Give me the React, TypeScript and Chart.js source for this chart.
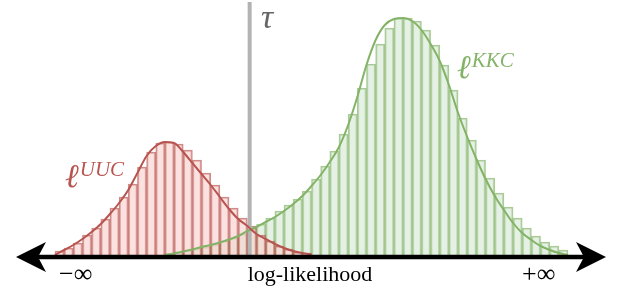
import React, { useEffect, useRef } from "react";
import { Chart, registerables } from "chart.js";
Chart.register(...registerables);

// histogram bins share one grid of unit-width bins (edges 0..56)
const redFirstBin = 0;
const redBars = [4, 7, 12, 20, 27, 36, 47, 58, 71, 88, 103, 112, 113, 111, 105, 95, 82, 70, 58, 47, 37, 29, 20, 14, 9, 6, 3, 2];
const greenFirstBin = 12;
const greenBars = [1.3, 3.3, 5, 6.7, 8, 10.7, 14, 17, 21, 27, 31, 37, 44, 50, 56, 64, 76, 89, 104, 121, 141, 167, 191, 211, 227, 237, 237, 234, 225, 210, 190, 165, 137, 115, 95, 77, 62, 48, 37, 27, 19, 13, 9, 5];
// density curves sampled at bin edges
const redCurve = [0, 5, 10, 16, 23, 31, 41, 52, 65, 82, 99, 109, 113, 112, 103, 92, 81, 70, 58, 46, 36, 29, 21, 16, 11, 7, 4, 2, 0.5];
const greenCurve = [0, 1.5, 3.5, 5.5, 8, 10, 12.5, 15.5, 19, 24, 28, 33, 38, 44, 51, 59, 69, 80, 93, 108, 130, 158, 190, 215, 230, 236, 237, 234, 225, 211, 194, 170, 142, 118, 96, 76, 59, 45, 32, 22, 15, 9, 5, 2, 0];
const tau = 21.25;
const tauTop = 253;
const axisLabels = ["\u2212\u221E", "log-likelihood", "+\u221E"];
const seriesLabels = ["UUC", "KKC"];
const tauLabel = "\u03C4";

const RED = "#b85450";
const GREEN = "#82b366";

const overlay = {
  id: "overlay",
  afterDatasetsDraw(chart: any) {
    const ctx = chart.ctx as CanvasRenderingContext2D;
    const y0 = chart.scales.y.getPixelForValue(0) + 2;
    ctx.save();
    // axis with arrows
    ctx.strokeStyle = "#000";
    ctx.fillStyle = "#000";
    ctx.lineWidth = 4.5;
    ctx.beginPath();
    ctx.moveTo(36, y0);
    ctx.lineTo(588, y0);
    ctx.stroke();
    const arrow = (tip: number, dir: number) => {
      ctx.beginPath();
      ctx.moveTo(tip, y0);
      ctx.lineTo(tip + dir * 30, y0 - 15);
      ctx.lineTo(tip + dir * 22, y0);
      ctx.lineTo(tip + dir * 30, y0 + 15);
      ctx.closePath();
      ctx.fill();
    };
    arrow(16, 1);
    arrow(606, -1);

    // bottom labels
    ctx.textBaseline = "alphabetic";
    ctx.font = '26px "Liberation Serif"';
    ctx.textAlign = "left";
    ctx.fillText(axisLabels[0], 59, 282);
    ctx.fillText(axisLabels[2], 522, 282);
    ctx.font = '22px "Liberation Serif"';
    ctx.textAlign = "center";
    ctx.fillText(axisLabels[1], 310, 281);
    ctx.textAlign = "left";

    // tau label
    ctx.fillStyle = "#666";
    ctx.font = 'italic 34px "Liberation Serif"';
    ctx.fillText(tauLabel, 261, 28);

    // series labels
    const ell = (x: number, y: number, sup: string, color: string) => {
      ctx.fillStyle = color;
      ctx.font = 'italic 33px "Liberation Serif"';
      ctx.fillText("\u2113", x, y);
      const w = ctx.measureText("\u2113").width;
      ctx.font = 'italic 21px "Liberation Serif"';
      ctx.fillText(sup, x + w + 1, y - 11);
    };
    ell(65, 187, seriesLabels[0], RED);
    ell(457, 78, seriesLabels[1], GREEN);
    ctx.restore();
  },
};

export default function App() {
  const ref = useRef<HTMLCanvasElement | null>(null);
  useEffect(() => {
    document.body.style.margin = "0";
    const redBarData = redBars.map((v, i) => ({ x: redFirstBin + i + 0.5, y: v }));
    const greenBarData = greenBars.map((v, i) => ({ x: greenFirstBin + i + 0.5, y: v }));
    const redCurveData = redCurve.map((v, i) => ({ x: redFirstBin + i, y: v }));
    const greenCurveData = greenCurve.map((v, i) => ({ x: greenFirstBin + i, y: v }));
    const chart = new Chart(ref.current!, {
      type: "bar",
      data: {
        datasets: [
          {
            type: "line",
            data: redCurveData,
            borderColor: RED,
            borderWidth: 2,
            pointRadius: 0,
            cubicInterpolationMode: "monotone",
            fill: false,
            order: 1,
          } as any,
          {
            type: "line",
            data: greenCurveData,
            borderColor: GREEN,
            borderWidth: 2,
            pointRadius: 0,
            cubicInterpolationMode: "monotone",
            fill: false,
            order: 2,
          } as any,
          {
            type: "line",
            data: [
              { x: tau, y: 0 },
              { x: tau, y: tauTop },
            ],
            borderColor: "#b3b3b3",
            borderWidth: 4,
            pointRadius: 0,
            fill: false,
            order: 3,
          } as any,
          {
            type: "bar",
            data: redBarData,
            backgroundColor: "rgba(248,206,204,0.6)",
            borderColor: "rgba(184,84,80,0.68)",
            borderWidth: 1.5,
            barPercentage: 1,
            categoryPercentage: 1,
            grouped: false,
            order: 4,
          } as any,
          {
            type: "bar",
            data: greenBarData,
            backgroundColor: "rgba(213,232,212,0.6)",
            borderColor: "rgba(130,179,102,0.68)",
            borderWidth: 1.5,
            barPercentage: 1,
            categoryPercentage: 1,
            grouped: false,
            order: 5,
          } as any,
        ],
      },
      options: {
        animation: false,
        responsive: true,
        maintainAspectRatio: false,
        layout: { padding: { left: 0, right: 0, top: 0, bottom: 49 } },
        plugins: { legend: { display: false }, tooltip: { enabled: false }, title: { display: false } },
        scales: {
          x: { type: "linear", min: -6, max: 62, offset: false, display: false },
          y: { min: 0, max: 255, display: false },
        },
      },
      plugins: [overlay],
    });
    return () => chart.destroy();
  }, []);
  return (
    <div style={{ position: "fixed", left: 0, top: 0, width: 623, height: 304 }}>
      <canvas ref={ref} />
    </div>
  );
}
